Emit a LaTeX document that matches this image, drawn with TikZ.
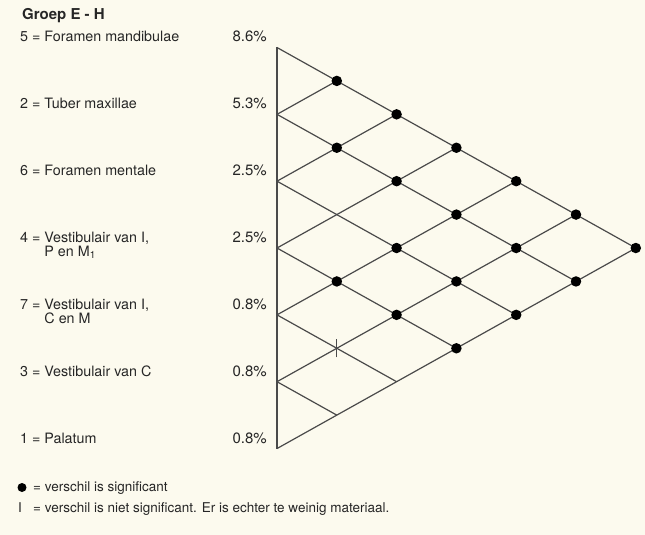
\documentclass[tikz,border=0pt]{standalone}
\usepackage{fontspec}
\setmainfont{TeX Gyre Heros}
\usepackage{xcolor}
\definecolor{paper}{HTML}{FCFAEE}
\definecolor{ink}{HTML}{262626}
\definecolor{gridline}{HTML}{4A4A4A}
\tikzset{
  lbl/.style={anchor=base west, inner sep=0pt, text=ink, font=\fontsize{14.3}{12.5}\selectfont},
  pct/.style={anchor=base east, inner sep=0pt, text=ink, font=\fontsize{15}{14.5}\selectfont},
  legend/.style={anchor=base west, inner sep=0pt, text=ink, font=\fontsize{13.5}{16}\selectfont},
  sig/.style={circle, fill=black, inner sep=0pt, minimum size=10.5pt},
}

\begin{document}
\begin{tikzpicture}[x=1pt, y=-1pt]
\newcommand{\xl}{277}
\newcommand{\yt}{47.5}
\newcommand{\dx}{59.8}
\newcommand{\dy}{33.42}
\fill[paper] (0,0) rectangle (645,535);
\useasboundingbox (0,0) rectangle (645,535);
%% title
\node[anchor=base west, inner sep=0pt, text=ink, font=\fontsize{15}{17}\bfseries] (title) at (22,19.5) {Groep E - H};
%% left points and crossings of the grid
\foreach \i in {0,...,6} {
  \coordinate (l\i) at (\xl, {\yt+2*\dy*\i});
}
\foreach \i in {0,...,5} {
  \pgfmathtruncatemacro{\ii}{\i+1}
  \foreach \j in {\ii,...,6} {
    \coordinate (p\i\j) at ({\xl+\dx*(\j-\i)}, {\yt+\dy*(\i+\j)});
  }
}
\begin{scope}[gridline, line width=1.2pt]
  \draw (l0) -- (l6);
  \foreach \i in {0,...,5} \draw (l\i) -- (p\i6);
  \foreach \j in {1,...,6} \draw (l\j) -- (p0\j);
\end{scope}
%% significant pairs
\foreach \p in {01,02,12,03,13,04,14,05,24,15,06,34,25,16,35,26,36} {
  \node[sig] (dot\p) at (p\p) {};
}
%% not significant
\coordinate (tt) at ([yshift=-9pt]p45);
\coordinate (tb) at ([yshift=9pt]p45);
\draw[gridline, line width=1.2pt] (tt) -- (tb);
%% labels
\foreach \i/\txt/\pc in {0/{5 = Foramen mandibulae}/8.6,
                         1/{2 = Tuber maxillae}/5.3,
                         2/{6 = Foramen mentale}/2.5,
                         3/{4 = \begin{tabular}[t]{@{}l@{}}Vestibulair van I,\\P en M\textsubscript{1}\end{tabular}}/2.5,
                         4/{7 = \begin{tabular}[t]{@{}l@{}}Vestibulair van I,\\C en M\end{tabular}}/0.8,
                         5/{3 = Vestibulair van C}/0.8,
                         6/{1 = Palatum}/0.8} {
  \node[lbl] (name\i) at ([yshift=5.5pt]20,{\yt+2*\dy*\i}) {\txt};
  \node[pct] (pct\i) at ([yshift=5.5pt]267,{\yt+2*\dy*\i}) {\pc\%};
}
%% legend
\node[sig, minimum size=9pt] (keydot) at (22,487.5) {};
\node[legend] (keysig) at (33,491) {= verschil is significant};
\node[legend] (keybar) at (18,512) {I};
\node[legend] (keyns) at (33,512) {= verschil is niet significant. Er is echter te weinig materiaal.};
\end{tikzpicture}
\end{document}
